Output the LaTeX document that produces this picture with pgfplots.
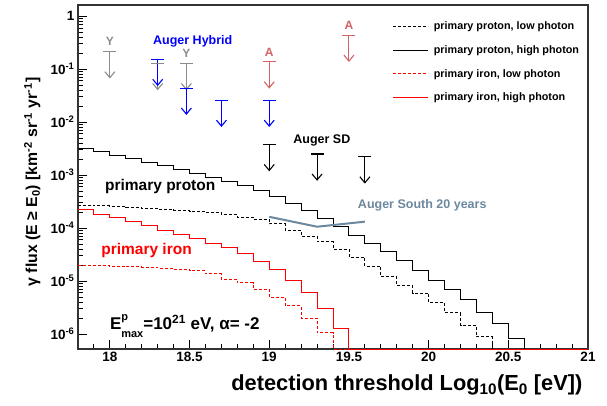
\documentclass[border=0pt]{standalone}
\usepackage{fontspec}
\setmainfont{Liberation Sans}
\usepackage{pgfplots}
\usepackage{pgfplotstable}
\pgfplotsset{compat=1.18}
\usetikzlibrary{arrows.meta}
\definecolor{ygray}{RGB}{140,140,140}
\definecolor{arose}{RGB}{208,100,100}
\definecolor{slate}{RGB}{108,136,158}
\definecolor{ablue}{RGB}{0,0,255}

\pgfplotstableread{
x y
17.8 2.72e-4
17.9 2.64e-4
18.0 2.55e-4
18.1 2.46e-4
18.2 2.39e-4
18.3 2.29e-4
18.4 2.19e-4
18.5 2.10e-4
18.6 1.97e-4
18.7 1.80e-4
18.8 1.61e-4
18.9 1.45e-4
19.0 1.20e-4
19.1 9.1e-5
19.2 7.0e-5
19.3 5.5e-5
19.4 4.0e-5
19.5 2.8e-5
19.6 1.9e-5
19.7 1.2e-5
19.8 8.1e-6
19.9 5.9e-6
20.0 3.9e-6
20.1 2.5e-6
20.2 1.48e-6
20.3 8.9e-7
20.4 5.2e-7
21.0 5.2e-7
}\protonlow

\pgfplotstableread{
x y
17.8 3.16e-3
17.9 2.75e-3
18.0 2.38e-3
18.1 2.07e-3
18.2 1.74e-3
18.3 1.50e-3
18.4 1.27e-3
18.5 1.08e-3
18.6 9.2e-4
18.7 7.6e-4
18.8 6.3e-4
18.9 5.06e-4
19.0 3.9e-4
19.1 2.92e-4
19.2 2.12e-4
19.3 1.52e-4
19.4 1.09e-4
19.5 7.4e-5
19.6 5.1e-5
19.7 3.6e-5
19.8 2.4e-5
19.9 1.6e-5
20.0 1.04e-5
20.1 6.8e-6
20.2 4.4e-6
20.3 2.6e-6
20.4 1.55e-6
20.5 8.3e-7
20.6 5.2e-7
21.0 5.2e-7
}\protonhigh

\pgfplotstableread{
x y
17.8 2.0e-5
17.9 1.96e-5
18.0 1.90e-5
18.1 1.85e-5
18.2 1.80e-5
18.3 1.73e-5
18.4 1.66e-5
18.5 1.57e-5
18.6 1.38e-5
18.7 1.07e-5
18.8 9.3e-6
18.9 6.9e-6
19.0 5.0e-6
19.1 3.4e-6
19.2 2.0e-6
19.3 1.05e-6
19.4 5.2e-7
21.0 5.2e-7
}\ironlow

\pgfplotstableread{
x y
17.8 2.2e-4
17.9 1.84e-4
18.0 1.56e-4
18.1 1.31e-4
18.2 1.10e-4
18.3 9.1e-5
18.4 7.7e-5
18.5 6.4e-5
18.6 5.2e-5
18.7 4.35e-5
18.8 3.25e-5
18.9 2.3e-5
19.0 1.66e-5
19.1 1.04e-5
19.2 6.1e-6
19.3 3.0e-6
19.4 1.28e-6
19.5 5.2e-7
21.0 5.2e-7
}\ironhigh

\begin{document}
\begin{tikzpicture}
\begin{axis}[
  scale only axis, width=510pt, height=344pt,
  xmin=17.8, xmax=21, ymode=log, ymin=5.2e-7, ymax=1.63,
  xtick={18,18.5,19,19.5,20,20.5,21},
  xticklabels={18,18.5,19,19.5,20,20.5,21},
  minor xtick={17.9,18.1,18.2,18.3,18.4,18.6,18.7,18.8,18.9,19.1,19.2,19.3,19.4,19.6,19.7,19.8,19.9,20.1,20.2,20.3,20.4,20.6,20.7,20.8,20.9},
  ytick={1e-6,1e-5,1e-4,1e-3,1e-2,1e-1,1},
  yticklabels={10\textsuperscript{-6},10\textsuperscript{-5},10\textsuperscript{-4},10\textsuperscript{-3},10\textsuperscript{-2},10\textsuperscript{-1},1},
  tick align=inside, xtick pos=bottom, ytick pos=left,
  major tick length=9pt, minor tick length=5pt,
  tick style={black, line width=0.9pt},
  ticklabel style={font=\bfseries\fontsize{13.5}{14}\selectfont},
  axis line style={line width=1.1pt, black!80},
  xlabel={detection threshold Log\textsubscript{10}(E\textsubscript{0} [eV])},
  ylabel={γ flux (E ≥ E\textsubscript{0}) [km\textsuperscript{-2} sr\textsuperscript{-1} yr\textsuperscript{-1}]},
  every axis x label/.style={at={(rel axis cs:0.996,0)}, anchor=base east, yshift=-41.5pt, font=\bfseries\fontsize{21.8}{23}\selectfont},
  every axis y label/.style={at={(rel axis cs:-0.080,0.172)}, rotate=90, anchor=base west, font=\bfseries\fontsize{15.8}{18}\selectfont},
  legend style={draw=none, fill=none, at={(rel axis cs:0.617,0.957)}, anchor=north west,
    font=\bfseries\fontsize{10.8}{12}\selectfont, row sep=10.3pt, inner sep=0pt,
    nodes={inner xsep=5pt}},
  legend cell align=left,
  legend image code/.code={\draw[#1] (0pt,0pt) -- (35pt,0pt);},
  const plot,
]
\addplot[black, line width=0.8pt, dash pattern=on 3pt off 2pt] table {\protonlow};
\addlegendentry{primary proton, low photon}
\addplot[black, line width=0.9pt] table {\protonhigh};
\addlegendentry{primary proton, high photon}
\addplot[red, line width=0.9pt, dash pattern=on 3pt off 2pt] table {\ironlow};
\addlegendentry{primary iron, low photon}
\addplot[red, line width=1pt] table {\ironhigh};
\addlegendentry{primary iron, high photon}

% Auger South 20 years
\addplot[slate, line width=2pt, sharp plot, forget plot] coordinates {(19.0,1.63e-4) (19.3,1.06e-4) (19.6,1.32e-4)};

% upper limits: bar at limit, arrow down
\pgfplotsset{ul/.style={sharp plot, forget plot, line width=1.1pt, -{Straight Barb[length=6pt,width=10pt,line width=1.1pt]}, mark=-, mark indices={1}, mark size=6.5pt, mark options={line width=1.1pt, solid}}}
\addplot[ul, ygray] coordinates {(18.0,0.215) (18.0,0.0667)};
\addplot[ul, ygray] coordinates {(18.3,0.13) (18.3,0.040)};
\addplot[ul, ygray] coordinates {(18.48,0.13) (18.48,0.040)};
\addplot[ul, ablue] coordinates {(18.3,0.154) (18.3,0.048)};
\addplot[ul, ablue] coordinates {(18.48,0.044) (18.48,0.0137)};
\addplot[ul, ablue] coordinates {(18.7,0.026) (18.7,0.0081)};
\addplot[ul, ablue] coordinates {(19.0,0.026) (19.0,0.0081)};
\addplot[ul, arose] coordinates {(19.0,0.139) (19.0,0.043)};
\addplot[ul, arose] coordinates {(19.5,0.44) (19.5,0.137)};
\addplot[ul, black] coordinates {(19.0,3.8e-3) (19.0,1.18e-3)};
\addplot[ul, black] coordinates {(19.3,2.5e-3) (19.3,7.8e-4)};
\addplot[ul, black] coordinates {(19.6,2.24e-3) (19.6,6.9e-4)};

\node[font=\bfseries\fontsize{12}{12}\selectfont, text=ygray] at (axis cs:18.0,0.33) {Y};
\node[font=\bfseries\fontsize{12}{12}\selectfont, text=ygray] at (axis cs:18.48,0.2) {Y};
\node[font=\bfseries\fontsize{12}{12}\selectfont, text=arose] at (axis cs:19.0,0.206) {A};
\node[font=\bfseries\fontsize{12}{12}\selectfont, text=arose] at (axis cs:19.5,0.685) {A};
\node[font=\bfseries\fontsize{12.5}{12}\selectfont, text=ablue] at (axis cs:18.52,0.33) {Auger Hybrid};
\node[font=\bfseries\fontsize{12.5}{12}\selectfont, text=black] at (axis cs:19.33,4.6e-3) {Auger SD};
\node[font=\bfseries\fontsize{12.5}{12}\selectfont, text=slate] at (axis cs:19.96,2.72e-4) {Auger South 20 years};
\node[font=\bfseries\fontsize{15.5}{15}\selectfont, text=black] at (axis cs:18.316,6.0e-4) {primary proton};
\node[font=\bfseries\fontsize{15.5}{15}\selectfont, text=red] at (axis cs:18.23,3.7e-5) {primary iron};
\node[font=\bfseries\fontsize{17}{17}\selectfont, text=black] at (axis cs:18.47,1.45e-6) {E\begin{tabular}{@{}l@{}}\fontsize{11}{10.5}\selectfont p\\\fontsize{11}{10.5}\selectfont max\end{tabular}=10\textsuperscript{21} eV, α= -2};
\end{axis}
\path ([xshift=-78pt,yshift=-57pt]current axis.south west) rectangle ([xshift=19pt,yshift=5pt]current axis.north east);
\end{tikzpicture}
\end{document}
